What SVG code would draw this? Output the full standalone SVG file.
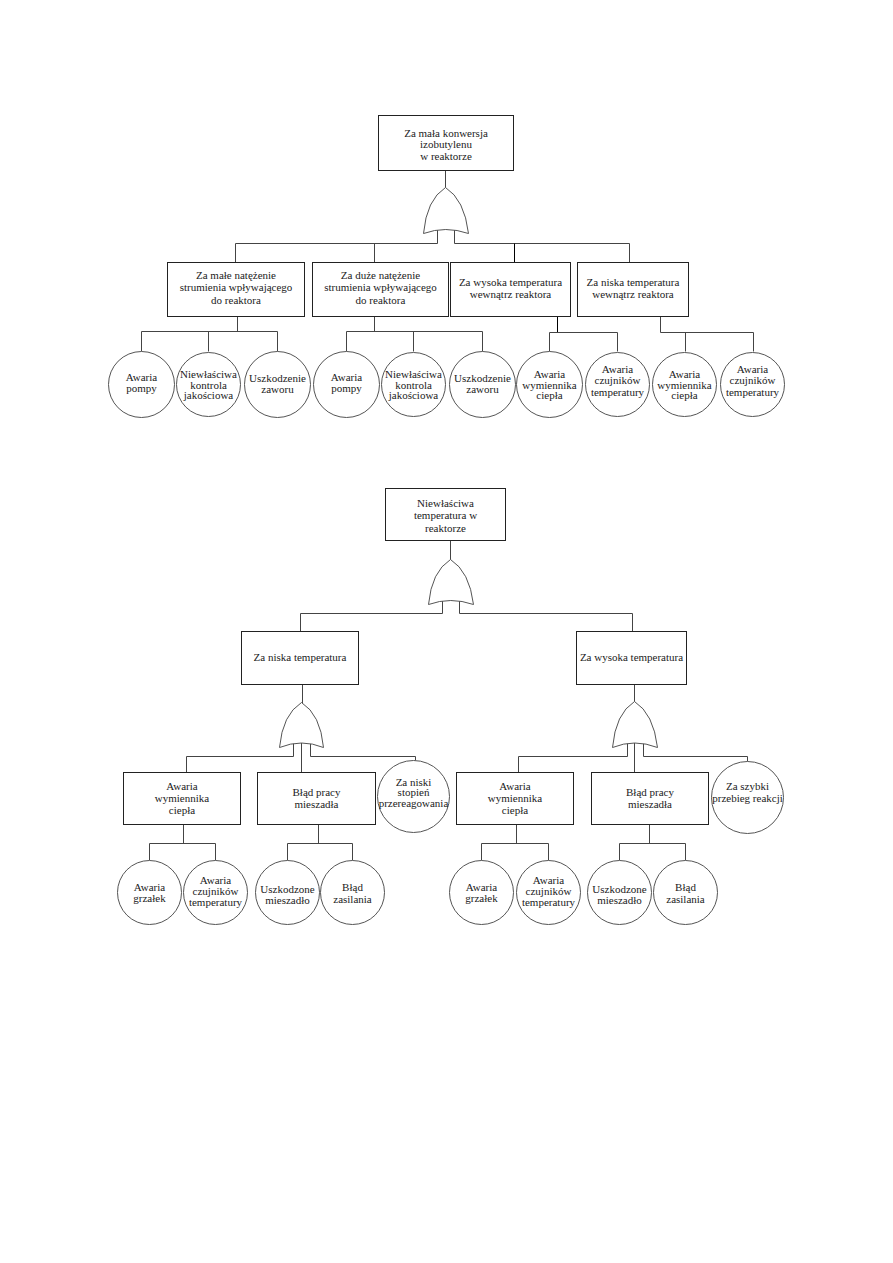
<svg xmlns="http://www.w3.org/2000/svg" width="893" height="1263" viewBox="0 0 893 1263">
<style>
.bg{fill:#fff}
.c{fill:none;stroke:#444;stroke-width:1}
.b{fill:#fff;stroke:#222;stroke-width:1}
.e{fill:#fff;stroke:#555;stroke-width:1}
.g{fill:#fff;stroke:#555;stroke-width:1}
text{font-family:'Liberation Serif','Times New Roman',Times,serif;font-size:11px;fill:#222;text-anchor:middle}
</style>
<rect class="bg" x="0" y="0" width="893" height="1263"/>
<g transform="translate(0.5,0.5)">
<g id="connectors">
<path class="c" d="M445,170V195"/>
<path class="c" d="M437,228V243H235V262"/>
<path class="c" d="M454,228V243H629V262"/>
<path class="c" d="M374,243V262"/>
<path class="c" d="M514,243V262" style="stroke:#000"/>
<path class="c" d="M237,316V331"/>
<path class="c" d="M141,351V331H277V351"/>
<path class="c" d="M208,331V351"/>
<path class="c" d="M374,316V331"/>
<path class="c" d="M346,351V331H482V351"/>
<path class="c" d="M413,331V351"/>
<path class="c" d="M557,316V332" style="stroke:#000"/>
<path class="c" d="M549,351V332H617V351"/>
<path class="c" d="M660,316V332H753V351"/>
<path class="c" d="M685,332V351"/>
<path class="c" d="M450,540V566"/>
<path class="c" d="M442,598V613H300V631"/>
<path class="c" d="M459,598V613H632V631"/>
<path class="c" d="M302,684V710"/>
<path class="c" d="M293,740V756H186V772"/>
<path class="c" d="M310,740V756H415V760"/>
<path class="c" d="M301,735V772"/>
<path class="c" d="M183,824V843"/>
<path class="c" d="M149,860V843H215V860"/>
<path class="c" d="M318,824V843"/>
<path class="c" d="M287,860V843H352V860"/>
<path class="c" d="M634,684V710"/>
<path class="c" d="M627,740V756H518V772"/>
<path class="c" d="M643,740V756H747V761"/>
<path class="c" d="M634,735V772"/>
<path class="c" d="M516,824V843"/>
<path class="c" d="M481,860V843H548V860"/>
<path class="c" d="M649,824V843"/>
<path class="c" d="M619,860V843H685V860"/>
</g>

<g id="gate1"><path class="g" d="M423,233Q426,199 445,187Q464,199 468,233Q445,225 423,233Z"/></g>
<g id="gate2"><path class="g" d="M428,604Q431,571 450,559Q469,571 473,604Q450,596 428,604Z"/></g>
<g id="gate3"><path class="g" d="M279,747Q282,714 301,702Q320,714 323,747Q301,738 279,747Z"/></g>
<g id="gate4"><path class="g" d="M612,747Q615,713 634,701Q653,713 657,747Q634,738 612,747Z"/></g>

<g id="top1"><rect class="b" x="378" y="115" width="135" height="55"/>
<text x="445.5" y="136">Za mała konwersja</text><text x="445.5" y="147.5">izobutylenu</text><text x="445.5" y="159">w reaktorze</text></g>

<g id="b1"><rect class="b" x="167" y="262" width="137" height="54"/>
<text x="235.5" y="278">Za małe natężenie</text><text x="235.5" y="290.5">strumienia wpływającego</text><text x="235.5" y="303">do reaktora</text></g>
<g id="b2"><rect class="b" x="312" y="262" width="136" height="54"/>
<text x="380" y="278">Za duże natężenie</text><text x="380" y="290.5">strumienia wpływającego</text><text x="380" y="303">do reaktora</text></g>
<g id="b3"><rect class="b" x="450" y="262" width="120" height="54"/>
<text x="510" y="285.5">Za wysoka temperatura</text><text x="510" y="297">wewnątrz reaktora</text></g>
<g id="b4"><rect class="b" x="577" y="262" width="111" height="54"/>
<text x="632.5" y="285.5">Za niska temperatura</text><text x="632.5" y="297">wewnątrz reaktora</text></g>

<g id="c1"><circle class="e" cx="141" cy="384" r="33"/><text x="141" y="380">Awaria</text><text x="141" y="391">pompy</text></g>
<g id="c2"><circle class="e" cx="208" cy="384" r="32"/><text x="208" y="377">Niewłaściwa</text><text x="208" y="388">kontrola</text><text x="208" y="398.5">jakościowa</text></g>
<g id="c3"><circle class="e" cx="277" cy="384" r="33"/><text x="277" y="381">Uszkodzenie</text><text x="277" y="392">zaworu</text></g>
<g id="c4"><circle class="e" cx="346" cy="384" r="33"/><text x="346" y="380">Awaria</text><text x="346" y="391">pompy</text></g>
<g id="c5"><circle class="e" cx="413" cy="384" r="32"/><text x="413" y="377">Niewłaściwa</text><text x="413" y="388">kontrola</text><text x="413" y="398.5">jakościowa</text></g>
<g id="c6"><circle class="e" cx="482" cy="384" r="33"/><text x="482" y="381">Uszkodzenie</text><text x="482" y="392">zaworu</text></g>
<g id="c7"><circle class="e" cx="549" cy="384" r="33"/><text x="549" y="377">Awaria</text><text x="549" y="388">wymiennika</text><text x="549" y="398.5">ciepła</text></g>
<g id="c8"><circle class="e" cx="617" cy="384" r="32"/><text x="617" y="372">Awaria</text><text x="617" y="383.5">czujników</text><text x="617" y="395">temperatury</text></g>
<g id="c9"><circle class="e" cx="684" cy="384" r="32"/><text x="684" y="377">Awaria</text><text x="684" y="388">wymiennika</text><text x="684" y="398.5">ciepła</text></g>
<g id="c10"><circle class="e" cx="752" cy="384" r="32"/><text x="752" y="372">Awaria</text><text x="752" y="383.5">czujników</text><text x="752" y="395">temperatury</text></g>

<g id="top2"><rect class="b" x="385" y="488" width="120" height="52"/>
<text x="445" y="506">Niewłaściwa</text><text x="445" y="518.5">temperatura w</text><text x="445" y="531">reaktorze</text></g>

<g id="lt"><rect class="b" x="241" y="631" width="117" height="53"/><text x="299.5" y="660">Za niska temperatura</text></g>
<g id="ht"><rect class="b" x="576" y="631" width="110" height="53"/><text x="631" y="660">Za wysoka temperatura</text></g>

<g id="lb1"><rect class="b" x="123" y="772" width="117" height="52"/>
<text x="181.5" y="789">Awaria</text><text x="181.5" y="801">wymiennika</text><text x="181.5" y="813">ciepła</text></g>
<g id="lb2"><rect class="b" x="257" y="772" width="118" height="52"/>
<text x="316" y="795">Błąd pracy</text><text x="316" y="807">mieszadła</text></g>
<g id="lc"><circle class="e" cx="413" cy="796" r="36"/>
<text x="413" y="785">Za niski</text><text x="413" y="795.5">stopień</text><text x="413" y="806">przereagowania</text></g>

<g id="rb1"><rect class="b" x="456" y="772" width="117" height="52"/>
<text x="514.5" y="789">Awaria</text><text x="514.5" y="801">wymiennika</text><text x="514.5" y="813">ciepła</text></g>
<g id="rb2"><rect class="b" x="591" y="772" width="117" height="52"/>
<text x="649.5" y="795">Błąd pracy</text><text x="649.5" y="807">mieszadła</text></g>
<g id="rc"><circle class="e" cx="747" cy="797" r="36"/>
<text x="747" y="789">Za szybki</text><text x="747" y="801">przebieg reakcji</text></g>

<g id="d1"><circle class="e" cx="149" cy="892" r="32"/><text x="149" y="890">Awaria</text><text x="149" y="901">grzałek</text></g>
<g id="d2"><circle class="e" cx="215" cy="892" r="32"/><text x="215" y="883">Awaria</text><text x="215" y="894">czujników</text><text x="215" y="905">temperatury</text></g>
<g id="d3"><circle class="e" cx="287" cy="892" r="32"/><text x="287" y="892">Uszkodzone</text><text x="287" y="903">mieszadło</text></g>
<g id="d4"><circle class="e" cx="352" cy="892" r="32"/><text x="352" y="890">Błąd</text><text x="352" y="902">zasilania</text></g>
<g id="d5"><circle class="e" cx="481" cy="892" r="32"/><text x="481" y="890">Awaria</text><text x="481" y="901">grzałek</text></g>
<g id="d6"><circle class="e" cx="548" cy="892" r="32"/><text x="548" y="883">Awaria</text><text x="548" y="894">czujników</text><text x="548" y="905">temperatury</text></g>
<g id="d7"><circle class="e" cx="619" cy="892" r="32"/><text x="619" y="892">Uszkodzone</text><text x="619" y="903">mieszadło</text></g>
<g id="d8"><circle class="e" cx="685" cy="892" r="32"/><text x="685" y="890">Błąd</text><text x="685" y="902">zasilania</text></g>
</g>
</svg>
